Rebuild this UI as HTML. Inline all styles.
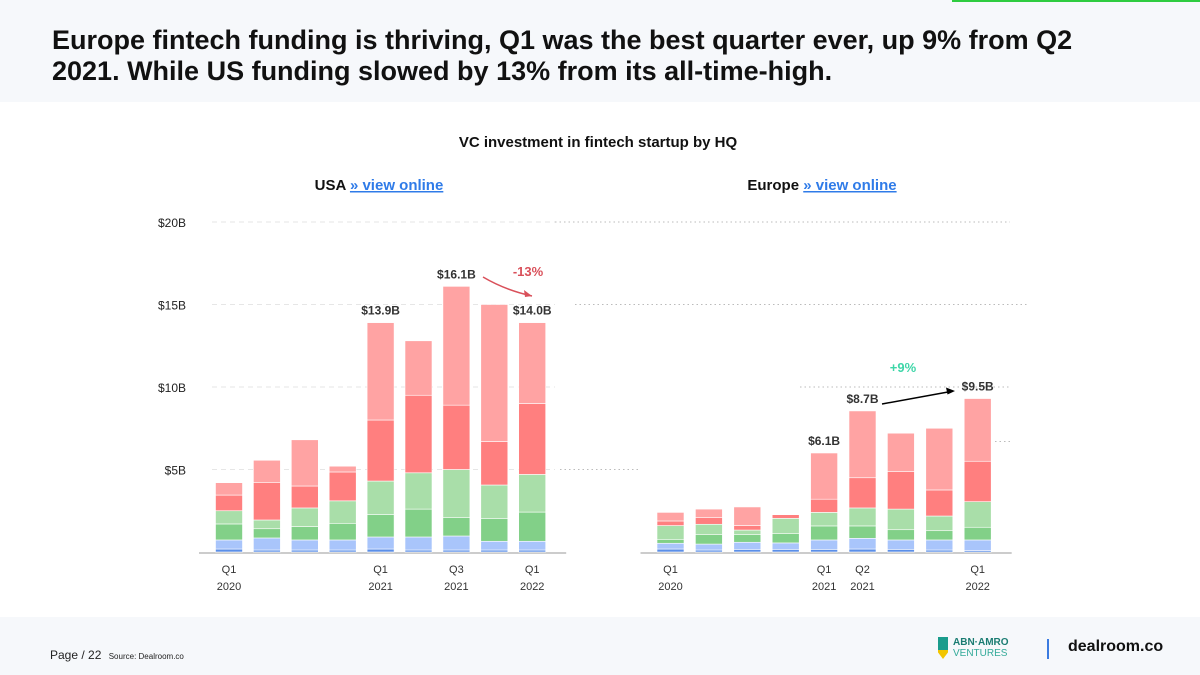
<!DOCTYPE html>
<html><head><meta charset="utf-8"><style>
body{margin:0;width:1200px;height:675px;background:#f6f8fb;font-family:"Liberation Sans",sans-serif;overflow:hidden;position:relative}
.t{position:absolute;white-space:nowrap}
</style></head><body>
<div style="position:absolute;left:952px;top:0;width:248px;height:2px;background:#2ecc40"></div>
<div class="t" style="left:52px;top:25px;font-size:27px;font-weight:bold;color:#111;line-height:31px">Europe fintech funding is thriving, Q1 was the best quarter ever, up 9% from Q2<br>2021. While US funding slowed by 13% from its all-time-high.</div>
<div style="position:absolute;left:0;top:102px;width:1200px;height:515px;background:#fff"></div>
<svg id="c" width="1200" height="675" style="position:absolute;left:0;top:0" font-family="Liberation Sans, sans-serif"></svg>
<div class="t" style="left:50px;top:648px;font-size:12px;color:#222">Page / 22 <span style="font-size:8px;margin-left:4px">Source: Dealroom.co</span></div>
<div style="position:absolute;left:938px;top:637px;width:10px;height:22px;background:linear-gradient(#1a9c8c 60%,#f2c500 60%);clip-path:polygon(0 0,100% 0,100% 70%,50% 100%,0 70%)"></div>
<div class="t" style="left:953px;top:637px;font-size:10px;font-weight:bold;color:#1a7c72;line-height:11px">ABN·AMRO<br><span style="font-weight:normal;color:#3a9">VENTURES</span></div>
<div style="position:absolute;left:1047px;top:639px;width:2px;height:20px;background:#3b7be0"></div>
<div class="t" style="left:1068px;top:638px;font-size:16px;font-weight:bold;color:#111">dealroom.co</div>
<script>
const usaValues=[[0.18,0.55,0.97,0.8,0.95,0.75],[0.12,0.73,0.56,0.53,2.26,1.36],[0.12,0.61,0.81,1.13,1.33,2.8],[0.12,0.61,1.01,1.36,1.75,0.35],[0.18,0.73,1.37,2.02,3.7,5.9],[0.12,0.79,1.69,2.2,4.7,3.3],[0.12,0.85,1.13,2.9,3.9,7.2],[0.12,0.53,1.39,2.02,2.64,8.3],[0.12,0.53,1.77,2.28,4.3,4.9]];
const euValues=[[0.18,0.35,0.24,0.83,0.28,0.52],[0.12,0.36,0.57,0.63,0.4,0.52],[0.16,0.43,0.46,0.28,0.28,1.12],[0.16,0.39,0.56,0.93,0.22,0],[0.16,0.57,0.85,0.82,0.8,2.8],[0.18,0.65,0.75,1.09,1.83,4.05],[0.16,0.57,0.62,1.25,2.27,2.33],[0.12,0.61,0.56,0.89,1.58,3.74],[0.08,0.65,0.77,1.55,2.45,3.8]];
const yTicks=[5,10,15,20];
const yTickLabels=["$5B","$10B","$15B","$20B"];
const xLabels=[["Q1","2020"],null,null,null,["Q1","2021"],null,["Q3","2021"],null,["Q1","2022"]];
const euXLabels=[["Q1","2020"],null,null,null,["Q1","2021"],["Q2","2021"],null,null,["Q1","2022"]];
const usaTotals=[null,null,null,null,"$13.9B",null,"$16.1B",null,"$14.0B"];
const euTotals=[null,null,null,null,"$6.1B","$8.7B",null,null,"$9.5B"];
const colors=["#5b8fe8","#a9c5fb","#82d088","#a9dea9","#ff7f7f","#ffa3a3"];
const svg=document.getElementById('c');const NS='http://www.w3.org/2000/svg';
function el(t,a,txt){const e=document.createElementNS(NS,t);for(const k in a)e.setAttribute(k,a[k]);if(txt!=null)e.textContent=txt;svg.appendChild(e);return e;}
const base=552,ppb=16.5;const y=v=>base-v*ppb;
let e;
e=el('text',{x:598,y:147,'text-anchor':'middle','font-size':15,'font-weight':'bold',fill:'#111'},'VC investment in fintech startup by HQ');


e=el('text',{x:379,y:190,'text-anchor':'middle','font-size':15,'font-weight':'bold',fill:'#111'},'USA ');


e.innerHTML='USA <tspan fill="#2f7be8" text-decoration="underline">» view online</tspan>';
e=el('text',{x:822,y:190,'text-anchor':'middle','font-size':15,'font-weight':'bold',fill:'#111'},'');


e.innerHTML='Europe <tspan fill="#2f7be8" text-decoration="underline">» view online</tspan>';
yTicks.forEach((v,i)=>{
 e=el('line',{x1:212,x2:555,y1:y(v),y2:y(v),stroke:'#e6e6e6','stroke-dasharray':'5,4'});
 
 
 e=el('text',{x:186,y:y(v)+5,'text-anchor':'end','font-size':12,fill:'#222'},yTickLabels[i]);
 
 
});
[[20,555,1010],[15,575,1027],[10,800,1010],[5,560,640],[6.7,995,1010]].forEach(g=>{
 e=el('line',{x1:g[1],x2:g[2],y1:y(g[0]),y2:y(g[0]),stroke:'#bbb','stroke-dasharray':'1.5,3'});
 
 
});
function chart(vals,x0,step,labels,totals,name){
 e=el('line',{x1:x0-30,x2:x0+8*step+34,y1:base+1,y2:base+1,stroke:'#ccc','stroke-width':2});
 
 
 vals.forEach((seg,i)=>{
  const cx=x0+i*step;let cum=0;
  seg.forEach((v,j)=>{
   if(v<=0)return;
   e=el('rect',{x:cx-13.5,y:y(cum+v),width:27,height:v*ppb,fill:colors[j],stroke:'#fff','stroke-width':0.6});
   
   
   cum+=v;
  });
  if(totals[i]){e=el('text',{x:cx,y:y(cum)-8,'text-anchor':'middle','font-size':12,'font-weight':'bold',fill:'#333'},totals[i]);
   
   }
  if(labels[i]){
   e=el('text',{x:cx,y:573,'text-anchor':'middle','font-size':11,fill:'#333'},labels[i][0]);
   
   
   e=el('text',{x:cx,y:590,'text-anchor':'middle','font-size':11,fill:'#333'},labels[i][1]);
   
   
  }
 });
}
chart(usaValues,229,37.9,xLabels,usaTotals,'usa');
chart(euValues,670.5,38.4,euXLabels,euTotals,'europe');
e=el('path',{d:'M483,277 Q505,290 532,296',fill:'none',stroke:'#d9505a','stroke-width':1.5});


e=el('path',{d:'M532,296 l-8,-6 l1,7 z',fill:'#d9505a'});


e=el('text',{x:528,y:276,'text-anchor':'middle','font-size':13,'font-weight':'bold',fill:'#d9505a'},'-13%');


e=el('line',{x1:882,y1:404,x2:948,y2:392,stroke:'#000','stroke-width':1.5});


e=el('path',{d:'M955,391 l-9,-3.5 l1.5,7 z',fill:'#000'});


e=el('text',{x:903,y:372,'text-anchor':'middle','font-size':13,'font-weight':'bold',fill:'#3ed6a8'},'+9%');


</script>
</body></html>
